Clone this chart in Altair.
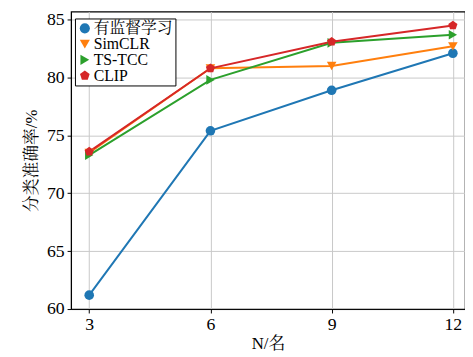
import altair as alt
import pandas as pd

n_vals = [3, 6, 9, 12]
series_names = ["有监督学习", "SimCLR", "TS-TCC", "CLIP"]
supervised = [61.2, 75.4, 78.9, 82.1]
simclr = [73.5, 80.8, 81.0, 82.7]
tstcc = [73.3, 79.8, 83.0, 83.7]
clip = [73.6, 80.8, 83.1, 84.5]

colors = ["#1f77b4", "#ff7f0e", "#2ca02c", "#d62728"]
pentagon = "M0,-1L0.951,-0.309L0.588,0.809L-0.588,0.809L-0.951,-0.309Z"
shapes = ["circle", "triangle-down", "triangle-right", pentagon]

rows = []
for name, vals in zip(series_names, [supervised, simclr, tstcc, clip]):
    for n, v in zip(n_vals, vals):
        rows.append({"N": n, "acc": v, "method": name})
df = pd.DataFrame(rows)

FONT = "Liberation Serif, Noto Serif CJK SC, Noto Sans CJK SC"

x = alt.X("N:Q", scale=alt.Scale(domain=[2.55, 12.3], nice=False, zero=False),
          axis=alt.Axis(values=n_vals, title="N/名", format="d"))
y = alt.Y("acc:Q", scale=alt.Scale(domain=[60, 85.7], nice=False, zero=False),
          axis=alt.Axis(values=[60, 65, 70, 75, 80, 85], title="分类准确率/%"))
legend = alt.Legend(title=None, orient="none", legendX=4, legendY=7,
                    strokeColor="black", fillColor="white",
                    padding=2, rowPadding=0, symbolSize=105,
                    labelFont=FONT, labelFontSize=16, labelFontWeight="normal",
                    labelColor="black", symbolStrokeWidth=0, labelOffset=1)
color = alt.Color("method:N", scale=alt.Scale(domain=series_names, range=colors), legend=legend)
shape = alt.Shape("method:N", scale=alt.Scale(domain=series_names, range=shapes), legend=legend)
order = alt.Order("N:Q")

lines = alt.Chart(df).mark_line(strokeWidth=2).encode(x=x, y=y, color=color, order=order)
points = alt.Chart(df).mark_point(filled=True, size=95, opacity=1).encode(x=x, y=y, color=color, shape=shape)

chart = alt.layer(lines, points).properties(
    width=400, height=302
).configure(
    font=FONT,
    padding={"left": 15, "top": 0, "right": 0, "bottom": 0}
).configure_view(
    stroke="black", strokeWidth=1.2
).configure_axis(
    labelFont=FONT, titleFont=FONT, labelFontSize=18, titleFontSize=17,
    labelColor="black", titleColor="black", titleFontWeight="normal",
    domainColor="black", tickColor="black", tickSize=4,
    gridColor="#c8c8c8", gridWidth=1, labelPadding=3
).configure_axisY(
    titlePadding=6
).configure_axisX(
    titlePadding=2
)

chart.save("out.html", embed_options={"renderer": "svg", "actions": False})
